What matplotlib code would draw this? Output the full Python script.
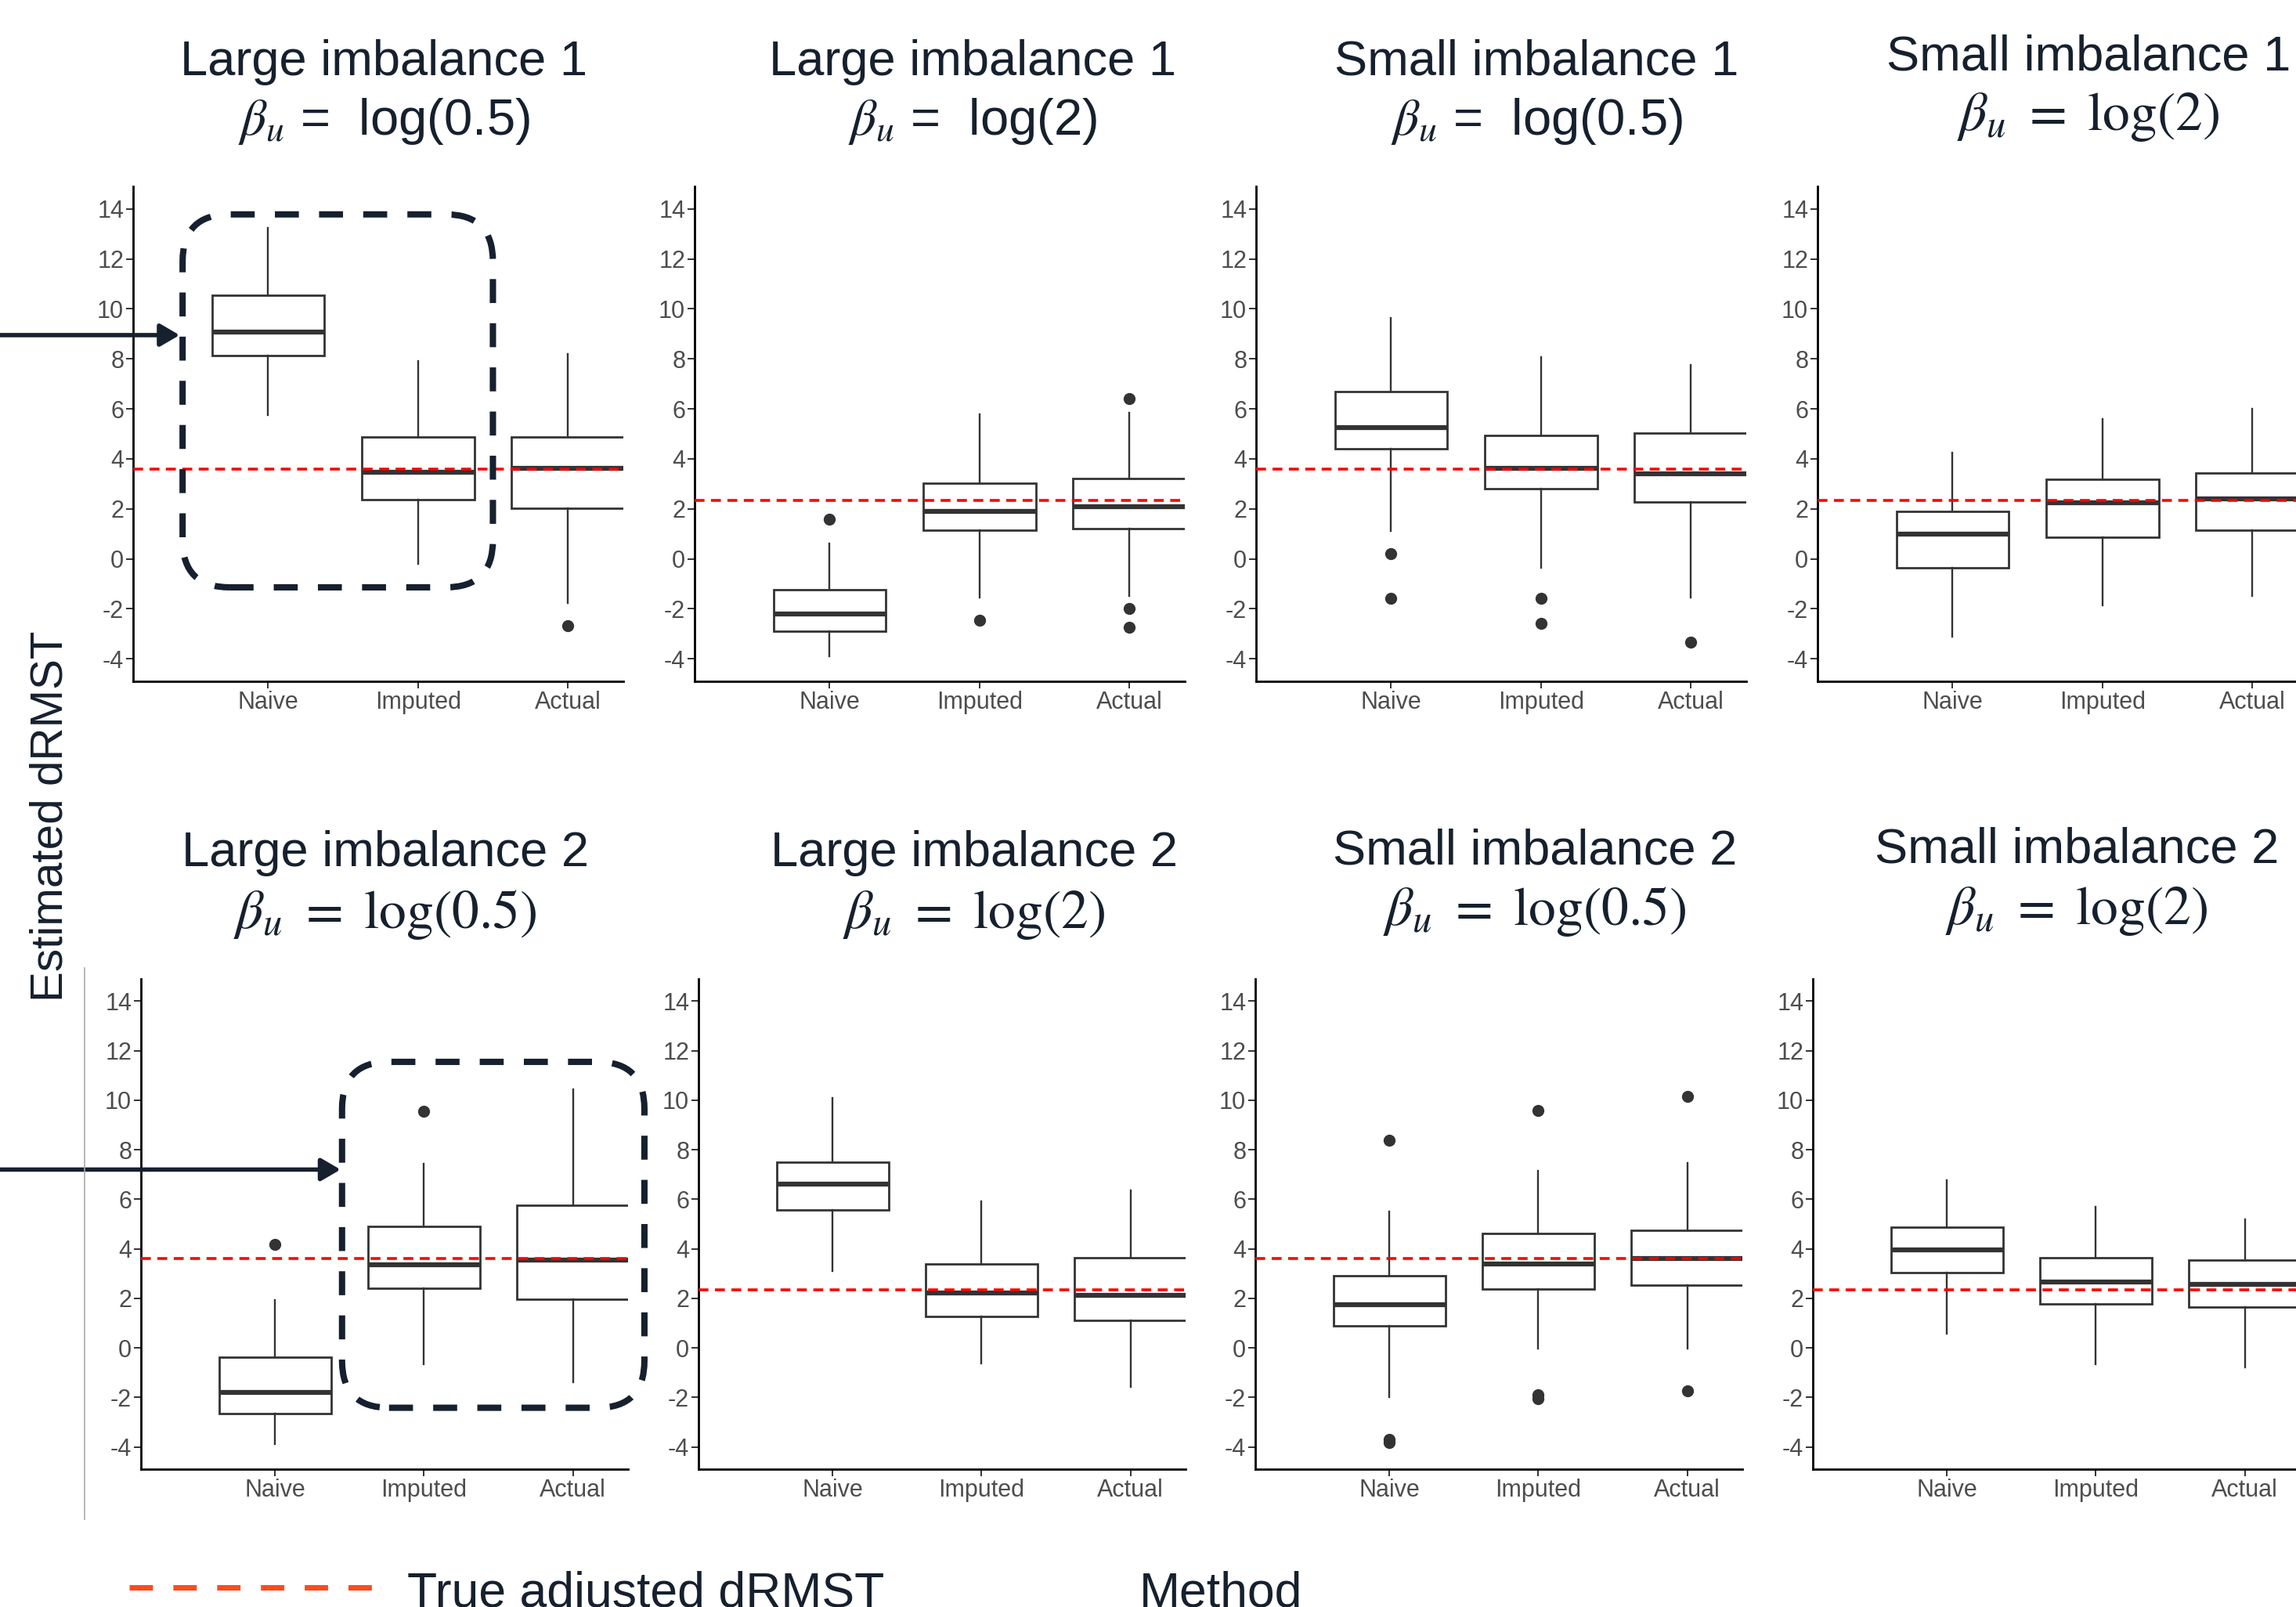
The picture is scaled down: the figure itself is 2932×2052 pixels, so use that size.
import matplotlib
matplotlib.use('Agg')
import matplotlib.pyplot as plt
from matplotlib.patches import FancyBboxPatch
from matplotlib.lines import Line2D
from matplotlib.transforms import IdentityTransform

plt.rcParams['font.family'] = ['Liberation Sans', 'DejaVu Sans']
plt.rcParams['axes.unicode_minus'] = False

# ---- data ----
methods = ['Naive', 'Imputed', 'Actual']

# whisker low, Q1, median, Q3, whisker high  for Naive / Imputed / Actual
large1_log05 = [[5.74, 8.12, 9.07, 10.53, 13.23], [-0.19, 2.38, 3.47, 4.87, 7.91], [-1.76, 2.03, 3.61, 4.87, 8.19]]
large1_log05_out = [[], [], [-2.67]]
large1_log2 = [[-3.9, -2.9, -2.22, -1.25, 0.6], [-1.56, 1.14, 1.91, 3.03, 5.78], [-1.47, 1.2, 2.1, 3.21, 5.85]]
large1_log2_out = [[1.59], [-2.46], [6.41, -2.0, -2.73]]
small1_log05 = [[1.1, 4.39, 5.25, 6.69, 9.65], [-0.37, 2.81, 3.62, 4.93, 8.07], [-1.54, 2.29, 3.4, 5.02, 7.77]]
small1_log05_out = [[0.22, -1.59], [-1.57, -2.58], [-3.33]]
small1_log2 = [[-3.1, -0.37, 0.98, 1.91, 4.25], [-1.86, 0.85, 2.23, 3.19, 5.59], [-1.48, 1.16, 2.41, 3.44, 6.01]]
small1_log2_out = [[], [], []]
large2_log05 = [[-3.88, -2.64, -1.8, -0.39, 1.93], [-0.67, 2.42, 3.37, 4.89, 7.42], [-1.4, 1.96, 3.55, 5.76, 10.44]]
large2_log05_out = [[4.18], [9.57], []]
large2_log2 = [[3.11, 5.56, 6.62, 7.51, 10.09], [-0.63, 1.27, 2.22, 3.39, 5.92], [-1.58, 1.12, 2.12, 3.64, 6.35]]
large2_log2_out = [[], [], []]
small2_log05 = [[-2.0, 0.89, 1.74, 2.9, 5.5], [-0.04, 2.39, 3.39, 4.61, 7.15], [-0.04, 2.54, 3.6, 4.76, 7.47]]
small2_log05_out = [[8.4, -3.7, -3.82], [9.58, -1.9, -2.05], [10.17, -1.75]]
small2_log2 = [[0.58, 3.03, 3.96, 4.87, 6.77], [-0.67, 1.76, 2.65, 3.64, 5.71], [-0.8, 1.65, 2.58, 3.53, 5.18]]
small2_log2_out = [[], [], []]

true_drmst_log05 = 3.6
true_drmst_log2 = 2.35

panel_stats = [large1_log05, large1_log2, small1_log05, small1_log2,
               large2_log05, large2_log2, small2_log05, small2_log2]
panel_outliers = [large1_log05_out, large1_log2_out, small1_log05_out, small1_log2_out,
                  large2_log05_out, large2_log2_out, small2_log05_out, small2_log2_out]
panel_truth = [true_drmst_log05, true_drmst_log2, true_drmst_log05, true_drmst_log2,
               true_drmst_log05, true_drmst_log2, true_drmst_log05, true_drmst_log2]
title_line1 = ['Large imbalance 1', 'Large imbalance 1', 'Small imbalance 1', 'Small imbalance 1',
               'Large imbalance 2', 'Large imbalance 2', 'Small imbalance 2', 'Small imbalance 2']
beta_values = ['0.5', '2', '0.5', '2', '0.5', '2', '0.5', '2']
sans_line2 = [True, True, True, False, False, False, False, False]
ytick_values = [-4, -2, 0, 2, 4, 6, 8, 10, 12, 14]

# ---- layout (pixels of the 2932x2052 canvas) ----
W, H = 2932, 2052
DPI = 100
navy = '#16202E'
box_col = '#333333'

row_lefts = [[170, 887, 1604, 2321], [180, 892, 1603, 2315]]
row_width = [626, 622]
row_top = [238, 1250]
row_bottom = [870, 1876]
title_x = [[490, 1242, 1962, 2667], [492, 1244, 1960, 2652]]
title_y1 = [[96, 96, 96, 89], [1106, 1106, 1104, 1102]]
title_y2 = [[172, 172, 172, 166], [1185, 1185, 1181, 1180]]

fig = plt.figure(figsize=(W / DPI, H / DPI), dpi=DPI)


def fx(px):
    return px / W


def fy(py):
    return 1 - py / H


axes = []
for i in range(8):
    r, c = divmod(i, 4)
    left = row_lefts[r][c]
    ax = fig.add_axes([fx(left), fy(row_bottom[r]), row_width[r] / W,
                       (row_bottom[r] - row_top[r]) / H])
    axes.append(ax)

    stats = []
    for m, five, out in zip(methods, panel_stats[i], panel_outliers[i]):
        lo, q1, med, q3, hi = five
        stats.append(dict(label=m, whislo=lo, q1=q1, med=med, q3=q3, whishi=hi, fliers=out))
    ax.bxp(stats, positions=[1, 2, 3], widths=0.75, showcaps=False, patch_artist=True,
           boxprops=dict(facecolor='white', edgecolor=box_col, linewidth=2.0),
           medianprops=dict(color=box_col, linewidth=4.5, solid_capstyle='butt'),
           whiskerprops=dict(color=box_col, linewidth=1.7),
           flierprops=dict(marker='o', markerfacecolor=box_col, markeredgecolor=box_col,
                           markersize=10))
    ax.axhline(panel_truth[i], color='#FF0000', linewidth=2.6, linestyle=(0, (3.5, 2.3)),
               zorder=5)

    ax.set_xlim(0.1, 3.37)
    ax.set_ylim(-4.9, 14.9)
    ax.set_yticks(ytick_values)
    ax.set_yticklabels([str(v) for v in ytick_values])
    ax.set_xticks([1, 2, 3])
    ax.set_xticklabels(methods)
    for s in ['top', 'right']:
        ax.spines[s].set_visible(False)
    for s in ['left', 'bottom']:
        ax.spines[s].set_linewidth(2.0)
        ax.spines[s].set_color('black')
    ax.tick_params(axis='both', labelsize=22, labelcolor='#4D4D4D', color='#333333',
                   length=6.5, width=1.4, pad=2)
    ax.set_facecolor('none')

    # panel titles
    fig.text(fx(title_x[r][c]), fy(title_y1[r][c]), title_line1[i], ha='center',
             va='baseline', fontsize=45.5, color=navy)
    if sans_line2[i]:
        fig.text(fx(title_x[r][c]), fy(title_y2[r][c]),
                 r'$\beta_u$ =  log(' + beta_values[i] + ')', ha='center', va='baseline',
                 fontsize=47, color=navy, math_fontfamily='stix')
    else:
        fig.text(fx(title_x[r][c]), fy(title_y2[r][c]),
                 r'$\beta_u\ =\ \mathrm{log}(' + beta_values[i] + ')$', ha='center',
                 va='baseline', fontsize=50, color=navy, math_fontfamily='stix')

# y axis label
fig.text(fx(65), fy(1042), 'Estimated dRMST', rotation=90, ha='center', va='center',
         fontsize=42, color=navy)

# thin grey rule left of the lower row
fig.add_artist(Line2D([fx(108), fx(108)], [fy(1236), fy(1940)], color='#AAAAAA',
                      linewidth=1.2))


# highlight boxes and arrows (given in panel data coordinates)
def rounded_box(ax, x0, x1, y0, y1, radius):
    (px0, py0), (px1, py1) = ax.transData.transform([(x0, y0), (x1, y1)])
    patch = FancyBboxPatch((px0, py0), px1 - px0, py1 - py0,
                           boxstyle=f'round,pad=0,rounding_size={radius}',
                           transform=IdentityTransform(), fill=False, edgecolor=navy,
                           linewidth=5.8, linestyle=(0, (3.8, 3.2)), zorder=10)
    fig.add_artist(patch)


def arrow(ax, x_tip, y):
    ax.annotate('', xy=(x_tip, y), xycoords='data', xytext=(0, y),
                textcoords=('figure fraction', 'data'), annotation_clip=False,
                arrowprops=dict(arrowstyle='-|>,head_length=0.6,head_width=0.35',
                                lw=4, color=navy, shrinkA=0, shrinkB=0,
                                mutation_scale=25))


rounded_box(axes[0], 0.43, 2.50, -1.14, 13.78, 60)
arrow(axes[0], 0.41, 8.95)
rounded_box(axes[4], 1.45, 3.48, -2.42, 11.55, 60)
arrow(axes[4], 1.44, 7.2)

# legend strip at the bottom (cut off by the canvas edge, as in the source slide)
fig.add_artist(Line2D([fx(165), fx(477)], [fy(2027), fy(2027)], color='#FF4A1C',
                      linewidth=5.0, linestyle=(0, (4.3, 3.75)), solid_capstyle='butt'))
fig.text(fx(520), fy(2052), 'True adjusted dRMST', ha='left', va='baseline',
         fontsize=45, color=navy)
fig.text(fx(1455), fy(2052), 'Method', ha='left', va='baseline', fontsize=45, color=navy)

fig.savefig('out.png', dpi=DPI)
